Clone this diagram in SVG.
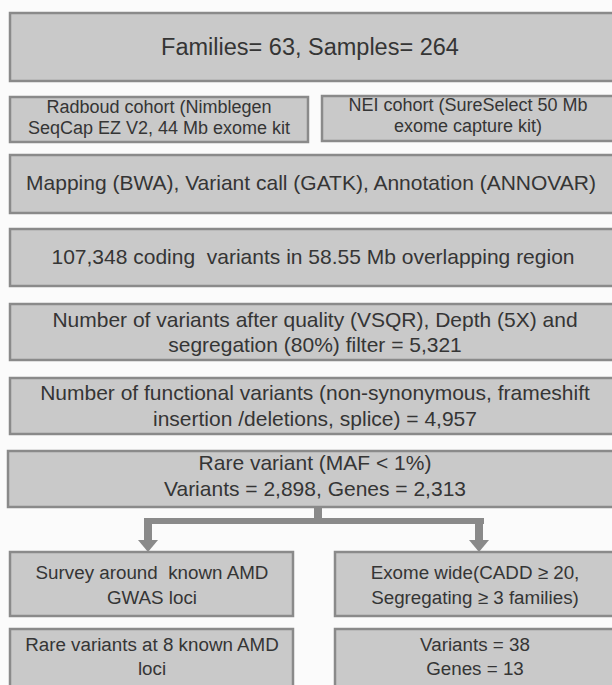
<svg xmlns="http://www.w3.org/2000/svg" width="612" height="685" viewBox="0 0 612 685">
<style>
.box{fill:#c9c9c9;stroke:#8a8a8a;stroke-width:2.5}
text{font-family:"Liberation Sans",Arial,sans-serif;fill:#353535;text-anchor:middle}
.big{font-size:23.5px}
.m{font-size:21px}
.s{font-size:18px}
.b{font-size:18.8px}
.pre{white-space:pre}
.con{fill:#8a8a8a}
</style>
<rect width="612" height="685" fill="#fbfbfb"/>
<g id="n1"><rect class="box" x="10" y="13" width="610" height="68"/><text class="big" x="310" y="55">Families= 63, Samples= 264</text></g>
<g id="n2a"><rect class="box" x="10" y="97" width="298" height="45"/><text class="s" x="159" y="113">Radboud cohort (Nimblegen</text><text class="s" x="159" y="134">SeqCap EZ V2, 44 Mb exome kit</text></g>
<g id="n2b"><rect class="box" x="322" y="96" width="298" height="45"/><text class="s" x="468" y="111">NEI cohort (SureSelect 50 Mb</text><text class="s" x="468" y="132">exome capture kit)</text></g>
<g id="n3"><rect class="box" x="10" y="155" width="610" height="58"/><text class="m" x="311" y="190">Mapping (BWA), Variant call (GATK), Annotation (ANNOVAR)</text></g>
<g id="n4"><rect class="box" x="10" y="229" width="610" height="57"/><text class="m pre" x="313" y="264">107,348 coding  variants in 58.55 Mb overlapping region</text></g>
<g id="n5"><rect class="box" x="10" y="304" width="610" height="56"/><text class="m" x="315" y="327">Number of variants after quality (VSQR), Depth (5X) and</text><text class="m" x="315" y="352">segregation (80%) filter = 5,321</text></g>
<g id="n6"><rect class="box" x="10" y="378" width="610" height="56"/><text class="m" x="315" y="400">Number of functional variants (non-synonymous, frameshift</text><text class="m" x="315" y="426">insertion /deletions, splice) = 4,957</text></g>
<g id="n7"><rect class="box" x="8" y="451" width="612" height="56"/><text class="m" x="315" y="470">Rare variant (MAF &lt; 1%)</text><text class="m" x="315" y="496">Variants = 2,898, Genes = 2,313</text></g>
<g id="connectors">
<rect class="con" x="314" y="507" width="8" height="16"/>
<rect class="con" x="144" y="518" width="340" height="6"/>
<rect class="con" x="144" y="518" width="8" height="23"/>
<polygon class="con" points="138,540 158,540 148,552"/>
<rect class="con" x="475" y="518" width="8" height="23"/>
<polygon class="con" points="469,540 489,540 479,552"/>
</g>
<g id="n8a"><rect class="box" x="10" y="552" width="283" height="64"/><text class="b pre" x="152" y="579">Survey around  known AMD</text><text class="b" x="152" y="604">GWAS loci</text></g>
<g id="n8b"><rect class="box" x="335" y="552" width="285" height="64"/><text class="b" x="475" y="579">Exome wide(CADD ≥ 20,</text><text class="b" x="475" y="604">Segregating ≥ 3 families)</text></g>
<g id="n9a"><rect class="box" x="10" y="629" width="283" height="60"/><text class="b" x="152" y="651">Rare variants at 8 known AMD</text><text class="b" x="152" y="675">loci</text></g>
<g id="n9b"><rect class="box" x="335" y="629" width="285" height="60"/><text class="b" x="475" y="651">Variants = 38</text><text class="b" x="475" y="675">Genes = 13</text></g>
</svg>
